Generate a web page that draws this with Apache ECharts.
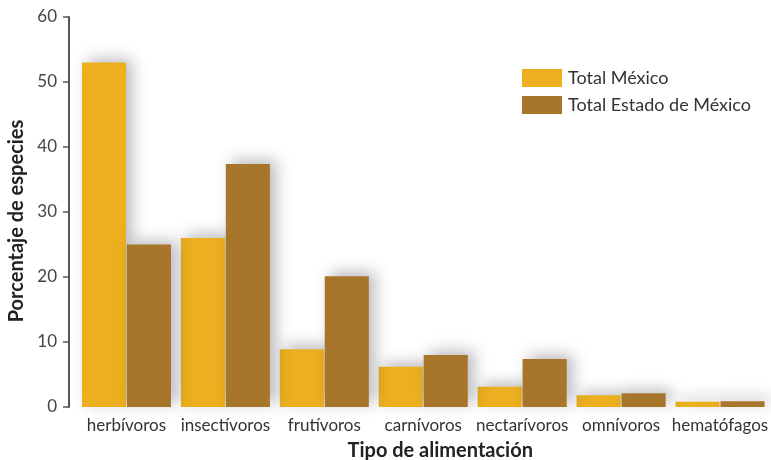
<!DOCTYPE html>
<html>
<head>
<meta charset="utf-8">
<script src="https://cdn.jsdelivr.net/npm/echarts@6/dist/echarts.min.js"></script>
<style>
  html, body { margin: 0; padding: 0; background: #ffffff; }
  #chart { width: 771px; height: 460px; }
</style>
</head>
<body>
<div id="chart"></div>
<script>
// Tipos de alimentación y porcentaje de especies
const categories = ['herbívoros', 'insectívoros', 'frutívoros', 'carnívoros', 'nectarívoros', 'omnívoros', 'hematófagos'];
const totalMexico = [53, 26, 8.9, 6.2, 3.1, 1.8, 0.8];
const totalEstado = [25, 37.4, 20.1, 8.0, 7.4, 2.1, 0.9];
const yTicks = [0, 10, 20, 30, 40, 50, 60];

const FONT = 'Lato, "Open Sans", sans-serif';
const barShadow = {
  shadowBlur: 14,
  shadowColor: 'rgba(60, 60, 75, 0.35)',
  shadowOffsetX: 6,
  shadowOffsetY: -4
};

const chart = echarts.init(document.getElementById('chart'), null, { renderer: 'canvas' });
chart.setOption({
  animation: false,
  backgroundColor: '#ffffff',
  grid: { left: 77, right: 1.5, top: 17, bottom: 53, containLabel: false, outerBoundsMode: 'none' },
  legend: {
    left: 517,
    top: 64,
    orient: 'vertical',
    itemWidth: 40,
    itemHeight: 18,
    itemGap: 9,
    icon: 'rect',
    textStyle: { fontFamily: FONT, fontSize: 18, color: '#333333', padding: [0, 0, 0, 1] },
    data: ['Total México', 'Total Estado de México']
  },
  xAxis: {
    type: 'category',
    data: categories,
    axisLine: { show: false },
    axisTick: { show: false },
    axisLabel: { fontFamily: FONT, fontSize: 17, color: '#333333', margin: 10, interval: 0 },
    name: 'Tipo de alimentación',
    nameLocation: 'middle',
    nameGap: 34,
    nameTextStyle: { fontFamily: FONT, fontSize: 20, fontWeight: 'bold', color: '#222222', padding: [0, 0, 0, 34] }
  },
  yAxis: {
    type: 'value',
    min: yTicks[0],
    max: yTicks[yTicks.length - 1],
    interval: 10,
    offset: 8,
    splitLine: { show: false },
    axisLine: { show: true, lineStyle: { color: '#555555', width: 2 } },
    axisTick: { show: true, length: 6, lineStyle: { color: '#555555', width: 1.5 } },
    axisLabel: { fontFamily: FONT, fontSize: 17, color: '#444444', margin: 12 },
    name: 'Porcentaje de especies',
    nameLocation: 'middle',
    nameGap: 40,
    nameTextStyle: { fontFamily: FONT, fontSize: 20, fontWeight: 'bold', color: '#222222', padding: [0, 18, 0, 0] }
  },
  series: [
    {
      name: 'Total México',
      type: 'bar',
      data: totalMexico,
      barGap: '2%',
      barCategoryGap: '10%',
      itemStyle: Object.assign({ color: '#EBAF1F' }, barShadow)
    },
    {
      name: 'Total Estado de México',
      type: 'bar',
      data: totalEstado,
      itemStyle: Object.assign({ color: '#A7762A' }, barShadow)
    }
  ]
});
</script>
</body>
</html>
